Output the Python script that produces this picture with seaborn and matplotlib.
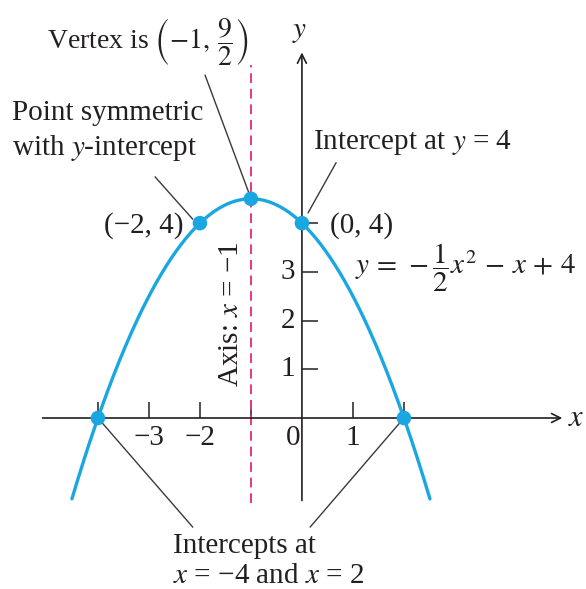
import numpy as np
import pandas as pd
import seaborn as sns
import matplotlib as mpl
import matplotlib.pyplot as plt

# parabola y = a x^2 + b x + c, as printed on the chart
coef_a, coef_b, coef_c = -0.5, -1.0, 4.0
x_start, x_end = -4.51, 2.51

# marked points: x-intercepts, symmetric point, vertex, y-intercept
pt_x = [-4, -2, -1, 0, 2]
pt_y = [0, 4, 4.5, 4, 0]

x_ticks = [-4, -3, -2, -1, 1, 2]
x_tick_labels = {-3: "\u22123", -2: "\u22122", 0: "0", 1: "1"}
y_ticks = [1, 2, 3, 4]
y_tick_labels = {1: "1", 2: "2", 3: "3"}

axis_x = -1

sns.set_theme(style="white")
mpl.rcParams["font.family"] = ["Liberation Serif", "DejaVu Serif"]
mpl.rcParams["mathtext.fontset"] = "stix"

BLUE = "#1AA7E1"
PINK = "#E8368C"
INK = "#231F20"
FS = 21

xs = np.linspace(x_start, x_end, 300)
curve = pd.DataFrame({"x": xs, "y": np.polyval([coef_a, coef_b, coef_c], xs)})
pts = pd.DataFrame({"x": pt_x, "y": pt_y})

fig = plt.figure(figsize=(5.86, 5.89), dpi=100)
ax = fig.add_axes([0, 0, 1, 1])
ax.set_xlim(-5.92, 5.57)
ax.set_ylim(-3.51, 8.58)
ax.axis("off")

# coordinate axes with open arrow heads
arrow = dict(arrowstyle="->", lw=1.2, color=INK, mutation_scale=16)
ax.annotate("", xy=(5.16, 0), xytext=(-5.14, 0), arrowprops=arrow)
ax.annotate("", xy=(0, 7.56), xytext=(0, -1.75), arrowprops=arrow)
ax.text(5.22, 0, "$x$", fontsize=FS + 1, color=INK, ha="left", va="center")
ax.text(-0.04, 7.93, "$y$", fontsize=FS, color=INK, ha="center", va="center")

# ticks
ax.vlines(x_ticks, 0, 0.32, color=INK, lw=1.1)
ax.hlines(y_ticks, 0, 0.31, color=INK, lw=1.1)
for v, s in x_tick_labels.items():
    ax.text(v if v != 0 else -0.18, -0.42, s, fontsize=FS, color=INK,
            ha="center", va="center")
for v, s in y_tick_labels.items():
    ax.text(-0.14, v, s, fontsize=FS, color=INK, ha="right", va="center")

# axis of symmetry
ax.plot([axis_x, axis_x], [-1.75, 7.25], color=PINK, lw=1.4, ls=(0, (5, 3)))
ax.text(-1.39, 2.14, "Axis: $x$ = \u22121", rotation=90, fontsize=FS,
        color=INK, ha="center", va="center")

# parabola and points
sns.lineplot(data=curve, x="x", y="y", ax=ax, color=BLUE, lw=2.4,
             sort=False, legend=False)
sns.scatterplot(data=pts, x="x", y="y", ax=ax, color=BLUE, s=110,
                edgecolor="none", zorder=5, legend=False)

# leader lines
lead = dict(color="#3a3a3a", lw=1.0)
ax.plot([-1.90, -1.04], [7.04, 4.62], **lead)
ax.plot([-2.88, -2.14], [4.95, 4.08], **lead)
ax.plot([0.67, 0.12], [5.24, 4.21], **lead)
ax.plot([-4.0, -2.14], [0, -2.24], **lead)
ax.plot([2.0, 0.16], [0, -2.24], **lead)

# annotations
ax.text(-3.02, 7.72, r"Vertex is $\left(-1,\,\dfrac{9}{2}\right)$",
        fontsize=FS - 1, color=INK, ha="center", va="center")
ax.text(-5.69, 6.52, "Point symmetric\nwith $y$-intercept", fontsize=FS,
        color=INK, ha="left", va="top", linespacing=1.3)
ax.text(-2.33, 3.96, "(\u22122, 4)", fontsize=FS, color=INK,
        ha="right", va="center")
ax.text(0.22, 5.65, "Intercept at $y$ = 4", fontsize=FS, color=INK,
        ha="left", va="center")
ax.text(0.55, 3.96, "(0, 4)", fontsize=FS, color=INK, ha="left", va="center")
ax.text(1.04, 3.08, r"$y\,=\,-\dfrac{1}{2}x^2\,-\,x\,+\,4$", fontsize=FS,
        color=INK, ha="left", va="center")
ax.text(-2.53, -2.36, "Intercepts at\n$x$ = \u22124 and $x$ = 2", fontsize=FS,
        color=INK, ha="left", va="top", linespacing=1.2)

fig.savefig("out.png", dpi=100)
